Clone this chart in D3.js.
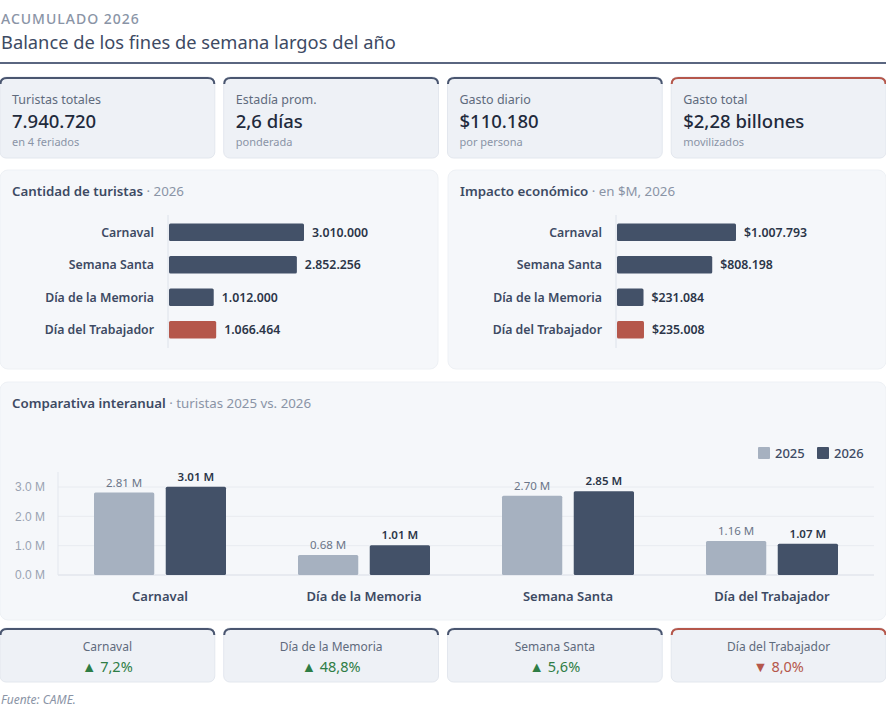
<!DOCTYPE html>
<html>
<head>
<meta charset="utf-8">
<script src="https://cdn.jsdelivr.net/npm/d3@7"></script>
<style>
  html, body { margin: 0; padding: 0; background: #ffffff; }
  svg { display: block; font-family: "Noto Sans", "Open Sans", sans-serif; }
</style>
</head>
<body>
<svg id="chart" width="886" height="716"></svg>
<script>
// data
const kpiLabels = ["Turistas totales", "Estadía prom.", "Gasto diario", "Gasto total"];
const kpiValues = ["7.940.720", "2,6 días", "$110.180", "$2,28 billones"];
const kpiNotes = ["en 4 feriados", "ponderada", "por persona", "movilizados"];

const feriados = ["Carnaval", "Semana Santa", "Día de la Memoria", "Día del Trabajador"];
const turistas2026 = [3010000, 2852256, 1012000, 1066464];
const impactoM = [1007793, 808198, 231084, 235008];

const compCategories = ["Carnaval", "Día de la Memoria", "Semana Santa", "Día del Trabajador"];
const years = ["2025", "2026"];
const comp2025 = [2810000, 680000, 2700000, 1160000];
const comp2026 = [3010000, 1012000, 2852256, 1066464];
const yTicks = [0, 1000000, 2000000, 3000000];

const variacion = ["7,2%", "48,8%", "5,6%", "8,0%"];
const variacionSube = [true, true, true, false];

const dark = "#435168", light = "#a6b1c0", red = "#b5574b", green = "#2e7d45";
const textDark = "#3d4a63", textGray = "#8a94a6";

const svg = d3.select("#chart");
const fmt = d3.formatLocale({ decimal: ",", thousands: ".", grouping: [3], currency: ["$", ""] });
const fmtInt = fmt.format(",d");

// header
svg.append("text").attr("x", 1).attr("y", 24)
  .attr("font-size", 14).attr("fill", textGray).attr("letter-spacing", 1).attr("font-weight", 500)
  .text("ACUMULADO 2026");
svg.append("text").attr("x", 1).attr("y", 49)
  .attr("font-size", 18.3).attr("fill", textDark)
  .text("Balance de los fines de semana largos del año");
svg.append("rect").attr("x", 0).attr("y", 62).attr("width", 886).attr("height", 2).attr("fill", "#5a6680");

// card helper
const cardX = d3.scaleBand().domain(d3.range(4)).range([0, 886]).paddingInner(0.04);

function card(g, x, y, w, h, accent) {
  g.append("rect").attr("x", x).attr("y", y).attr("width", w).attr("height", h)
    .attr("rx", 6).attr("fill", "#eef1f6").attr("stroke", "#e3e7ee");
  g.append("path")
    .attr("d", `M${x + 0.5},${y + 7} Q${x + 0.5},${y + 1} ${x + 7},${y + 1} L${x + w - 7},${y + 1} Q${x + w - 0.5},${y + 1} ${x + w - 0.5},${y + 7}`)
    .attr("fill", "none").attr("stroke", accent).attr("stroke-width", 2);
}

// KPI cards
const kpi = svg.append("g");
kpiLabels.forEach((lab, i) => {
  const x = cardX(i), w = cardX.bandwidth();
  card(kpi, x, 77, w, 81, i === 3 ? red : "#4a5670");
  kpi.append("text").attr("x", x + 12).attr("y", 104).attr("font-size", 12.5).attr("fill", "#5f6b7d").text(lab);
  kpi.append("text").attr("x", x + 12).attr("y", 128).attr("font-size", 18.5).attr("font-weight", 500).attr("fill", "#1f2a3c").text(kpiValues[i]);
  kpi.append("text").attr("x", x + 12).attr("y", 146).attr("font-size", 11).attr("fill", textGray).text(kpiNotes[i]);
});

// panel helper
function panel(x, y, w, h, title, sub) {
  const g = svg.append("g");
  g.append("rect").attr("x", x).attr("y", y).attr("width", w).attr("height", h)
    .attr("rx", 8).attr("fill", "#f5f7fa").attr("stroke", "#eef1f5");
  const t = g.append("text").attr("x", x + 12).attr("y", y + 26).attr("font-size", 13.3);
  t.append("tspan").attr("font-weight", 600).attr("fill", textDark).text(title);
  t.append("tspan").attr("fill", textGray).text(" · " + sub);
  return g;
}

// horizontal bar panels
function hbars(px, title, sub, values, x0, x1, labelFmt) {
  const g = panel(px, 170, 438, 199, title, sub);
  const y = d3.scaleBand().domain(feriados).range([216, 346]).paddingInner(0.46).paddingOuter(0.23);
  const x = d3.scaleLinear().domain([0, d3.max(values)]).range([x0, x1]);
  g.append("line").attr("x1", x0).attr("x2", x0).attr("y1", 215).attr("y2", 348)
    .attr("stroke", "#dde2ea").attr("stroke-width", 1);
  g.selectAll("rect.bar").data(values).join("rect").attr("class", "bar")
    .attr("x", x0 + 1).attr("y", (d, i) => y(feriados[i]))
    .attr("width", d => x(d) - x0 - 1).attr("height", y.bandwidth()).attr("rx", 1.5)
    .attr("fill", (d, i) => i === 3 ? red : dark);
  g.selectAll("text.cat").data(feriados).join("text").attr("class", "cat")
    .attr("x", x0 - 14).attr("y", d => y(d) + y.bandwidth() / 2).attr("dy", "0.35em")
    .attr("text-anchor", "end").attr("font-size", 12.3).attr("font-weight", 600).attr("fill", textDark)
    .text(d => d);
  g.selectAll("text.val").data(values).join("text").attr("class", "val")
    .attr("x", d => x(d) + 8).attr("y", (d, i) => y(feriados[i]) + y.bandwidth() / 2).attr("dy", "0.35em")
    .attr("font-size", 12.3).attr("font-weight", 600).attr("fill", "#2b3548")
    .text(labelFmt);
}
hbars(0, "Cantidad de turistas", "2026", turistas2026, 168, 304, d => fmtInt(d));
hbars(448, "Impacto económico", "en $M, 2026", impactoM, 616, 736, d => "$" + fmtInt(d));

// grouped comparison
const cg = panel(0, 382, 886, 238, "Comparativa interanual", "turistas 2025 vs. 2026");
const x0 = d3.scaleBand().domain(compCategories).range([58, 874]);
const x1 = d3.scaleBand().domain(years).range([36, 204 - 36]).paddingInner(0.16);
const yc = d3.scaleLinear().domain([0, 3000000]).range([575, 487]);

cg.append("g").selectAll("line").data(yTicks).join("line")
  .attr("x1", 58).attr("x2", 874).attr("y1", d => yc(d)).attr("y2", d => yc(d))
  .attr("stroke", d => d === 0 ? "#d9dee6" : "#e8ebf0").attr("stroke-width", d => d === 0 ? 1.2 : 1);
cg.append("line").attr("x1", 58).attr("x2", 58).attr("y1", 472).attr("y2", 575).attr("stroke", "#e3e7ee");
const yAxis = cg.append("g").attr("transform", "translate(58,0)")
  .call(d3.axisLeft(yc).tickValues(yTicks).tickSize(0).tickPadding(13).tickFormat(d => d3.format(".1f")(d / 1e6) + " M"));
yAxis.select(".domain").remove();
yAxis.selectAll("text").attr("font-size", 12).attr("fill", "#9aa3b2").attr("font-family", null);

const groups = cg.selectAll("g.grp").data(compCategories).join("g").attr("class", "grp")
  .attr("transform", d => `translate(${x0(d)},0)`);
[comp2025, comp2026].forEach((vals, k) => {
  groups.append("rect")
    .attr("x", x1(years[k])).attr("y", (d, i) => yc(vals[i]))
    .attr("width", x1.bandwidth()).attr("height", (d, i) => yc(0) - yc(vals[i])).attr("rx", 1.5)
    .attr("fill", k === 0 ? light : dark);
  groups.append("text")
    .attr("x", x1(years[k]) + x1.bandwidth() / 2).attr("y", (d, i) => yc(vals[i]) - 6)
    .attr("text-anchor", "middle").attr("font-size", 11.5)
    .attr("font-weight", k === 0 ? 400 : 600).attr("fill", k === 0 ? "#6b7588" : "#2b3548")
    .text((d, i) => d3.format(".2f")(vals[i] / 1e6) + " M");
});
groups.append("text").attr("x", x0.bandwidth() / 2).attr("y", 601).attr("text-anchor", "middle")
  .attr("font-size", 13).attr("font-weight", 600).attr("fill", textDark).text(d => d);

// legend
const leg = cg.append("g").attr("transform", "translate(758,447)");
years.forEach((yr, i) => {
  leg.append("rect").attr("x", i * 59).attr("y", 0).attr("width", 12).attr("height", 12).attr("rx", 1)
    .attr("fill", i === 0 ? light : dark);
  leg.append("text").attr("x", i * 59 + 17).attr("y", 6).attr("dy", "0.35em")
    .attr("font-size", 13).attr("font-weight", 500).attr("fill", textDark).text(yr);
});

// variation cards
const vc = svg.append("g");
compCategories.forEach((c, i) => {
  const x = cardX(i), w = cardX.bandwidth();
  card(vc, x, 628, w, 54, variacionSube[i] ? "#4a5670" : red);
  vc.append("text").attr("x", x + w / 2).attr("y", 651).attr("text-anchor", "middle")
    .attr("font-size", 12).attr("fill", "#5f6b7d").text(c);
  vc.append("text").attr("x", x + w / 2).attr("y", 672).attr("text-anchor", "middle")
    .attr("font-size", 14.5).attr("fill", variacionSube[i] ? green : red)
    .text((variacionSube[i] ? "▲ " : "▼ ") + variacion[i]);
});

svg.append("text").attr("x", 1).attr("y", 704).attr("font-size", 12).attr("font-style", "italic")
  .attr("fill", textGray).text("Fuente: CAME.");
</script>
</body>
</html>
